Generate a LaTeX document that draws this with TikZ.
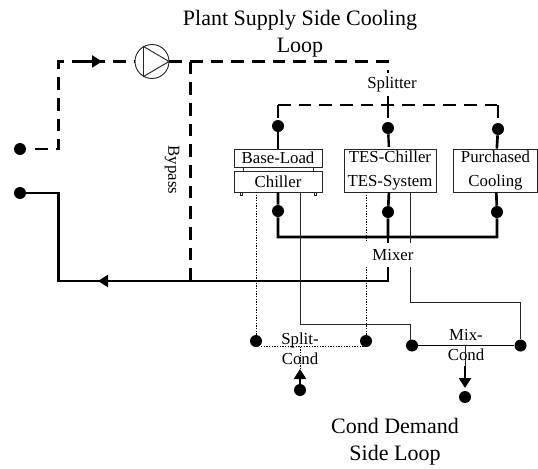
\documentclass[tikz,border=0pt]{standalone}
\usepackage{fontspec}
\setmainfont{Liberation Serif}
\usetikzlibrary{arrows.meta}
\tikzset{
	dashpipe/.style={line width=1.8pt,dash pattern=on 9.5pt off 6pt},
	solidpipe/.style={line width=2pt},
	thinpipe/.style={line width=0.7pt,draw=black!85},
	dotpipe/.style={line width=0.7pt,dash pattern=on 1pt off 1pt},
	flowtip/.style={-{Triangle[length=7.5pt,width=9pt]},line width=2pt},
	unitbox/.style={draw=black!85,line width=0.7pt,inner sep=0pt,align=center,font=\fontsize{12.6}{18}\selectfont},
	lbl/.style={inner sep=0pt,align=center,font=\fontsize{12.6}{15}\selectfont},
	biglbl/.style={inner sep=0pt,align=center,font=\fontsize{16.5}{20}\selectfont}
}
\newcommand{\jnode}[3]{\node[circle,fill=black,inner sep=0pt,minimum size=9pt] (#3) at (#1,#2) {};}
\begin{document}
\begin{tikzpicture}[x=0.75pt,y=-0.75pt]
	\useasboundingbox (0,0) rectangle (538,468);
	% evaporator side, dashed
	\jnode{20}{149}{inA} \jnode{20}{193}{outA}
	\jnode{278}{126}{baseIn} \jnode{388}{128}{tesIn} \jnode{498}{129}{purIn}
	\jnode{278}{211}{baseOut} \jnode{388}{212}{tesOut} \jnode{497}{212}{purOut}
	\coordinate (a1) at (35,149); \coordinate (a2) at (58.5,149); \coordinate (a3) at (58.5,61.5);
	\coordinate (a4) at (190.5,61.5); \coordinate (a5) at (388,61.5); \coordinate (a6) at (388,105);
	\coordinate (a7) at (278,105); \coordinate (a8) at (498,105);
	\coordinate (b1) at (58.5,193); \coordinate (b2) at (58.5,281); \coordinate (b3) at (190.5,281);
	\coordinate (b4) at (388,281); \coordinate (b5) at (278,237); \coordinate (b6) at (497,237);
	\coordinate (b7) at (388,237);
	% units
	\node[unitbox,minimum width=66pt,minimum height=13.5pt] (base) at (278,158) {Base-Load};
	\node[unitbox,minimum width=66pt,minimum height=15.75pt] (chil) at (278,181.5) {Chiller};
	\node[unitbox,minimum width=69pt,minimum height=32.25pt] (tes) at (390,170.5) {TES-Chiller\\TES-System};
	\node[unitbox,minimum width=63.4pt,minimum height=32.25pt] (pur) at (495.5,170.5) {Purchased\\Cooling};
	% pump
	\node[circle,draw=black!85,line width=0.7pt,minimum size=25.5pt,inner sep=0pt] (pump) at (152,61.5) {};
	\draw[black!85,line width=0.7pt] (143.5,46.5) -- (169,61.5) -- (143.5,76.5) -- cycle;
	\draw[dashpipe] (a1) -- (a2) -- (a3) -- (pump);
	\draw[dashpipe] (pump) -- (a5) -- (a6);
	\draw[dashpipe] (a4) -- (b3);
	\draw[dashpipe] (a7) -- (a8);
	\draw[dashpipe] (a7) -- (baseIn);
	\draw[dashpipe] (a6) -- (tesIn);
	\draw[dashpipe] (a8) -- (purIn);
	\draw[solidpipe] (baseIn) -- (base);
	\draw[solidpipe] (purIn) -- (pur);
	\draw[dashpipe] (tesIn) -- (tes);
	\draw[flowtip] (81,61.5) -- (102,61.5);
	% return side
	\draw[solidpipe] (outA) -- (b1) -- (b2) -- (b4) -- (b7);
	\draw[flowtip] (122,281) -- (98,281);
	\draw[solidpipe] (chil) -- (baseOut) -- (b5) -- (b6) -- (purOut) -- (pur);
	\draw[solidpipe] (tes) -- (tesOut) -- (b7);
	% chiller details
	\draw[thinpipe] (243.5,167) -- (243.5,171) (313.5,167) -- (313.5,171);
	\draw[thinpipe] (240,192) rectangle (242.5,195) (314,192) rectangle (316.5,195);
	% condenser side
	\jnode{256}{341}{splL} \jnode{366}{341}{splR} \jnode{300}{390}{splIn}
	\jnode{412}{345.5}{mixL} \jnode{520.5}{345.5}{mixR} \jnode{465}{397}{mixOut}
	\coordinate (c1) at (300.5,192); \coordinate (c2) at (300.5,324.5); \coordinate (c3) at (410.5,324.5);
	\coordinate (c4) at (410.5,192); \coordinate (c5) at (410.5,302.5); \coordinate (c6) at (520.5,302.5);
	\coordinate (c7) at (300,346.5); \coordinate (c8) at (465,346);
	\coordinate (c9) at (256,192); \coordinate (c10) at (366,192);
	\coordinate (c11) at (261,346.5); \coordinate (c12) at (366,346.5);
	\draw[dotpipe] (c9) -- (splL);
	\draw[dotpipe] (c10) -- (splR);
	\draw[dotpipe] (c11) -- (c12);
	\draw[dotpipe] (c7) -- (300,372);
	\draw[thinpipe] (c1) -- (c2) -- (c3) -- (410.5,341);
	\draw[thinpipe] (c4) -- (c5) -- (c6) -- (mixR);
	\draw[line width=0.8pt] (mixL) -- (mixR);
	\draw[thinpipe] (c8) -- (465,367);
	\draw[flowtip] (splIn) -- (300,369);
	\draw[flowtip] (465,366) -- (465,388);
	% labels
	\node[lbl,fill=white,minimum width=60pt,minimum height=18pt] (mixer) at (393,255) {Mixer};
	\node[lbl] (split) at (300,349) {Split-\\Cond};
	\node[lbl] (mix) at (466,345.5) {Mix-\\Cond};
	\node[lbl,fill=white,minimum height=17pt] (splitter) at (392,84.5) {Splitter};
	\node[lbl,rotate=-90] (bypass) at (172,170) {Bypass};
	\node[biglbl] (plant) at (300,33.5) {Plant Supply Side Cooling\\Loop};
	\node[biglbl] (cond) at (395,441.5) {Cond Demand\\Side Loop};
\end{tikzpicture}
\end{document}
